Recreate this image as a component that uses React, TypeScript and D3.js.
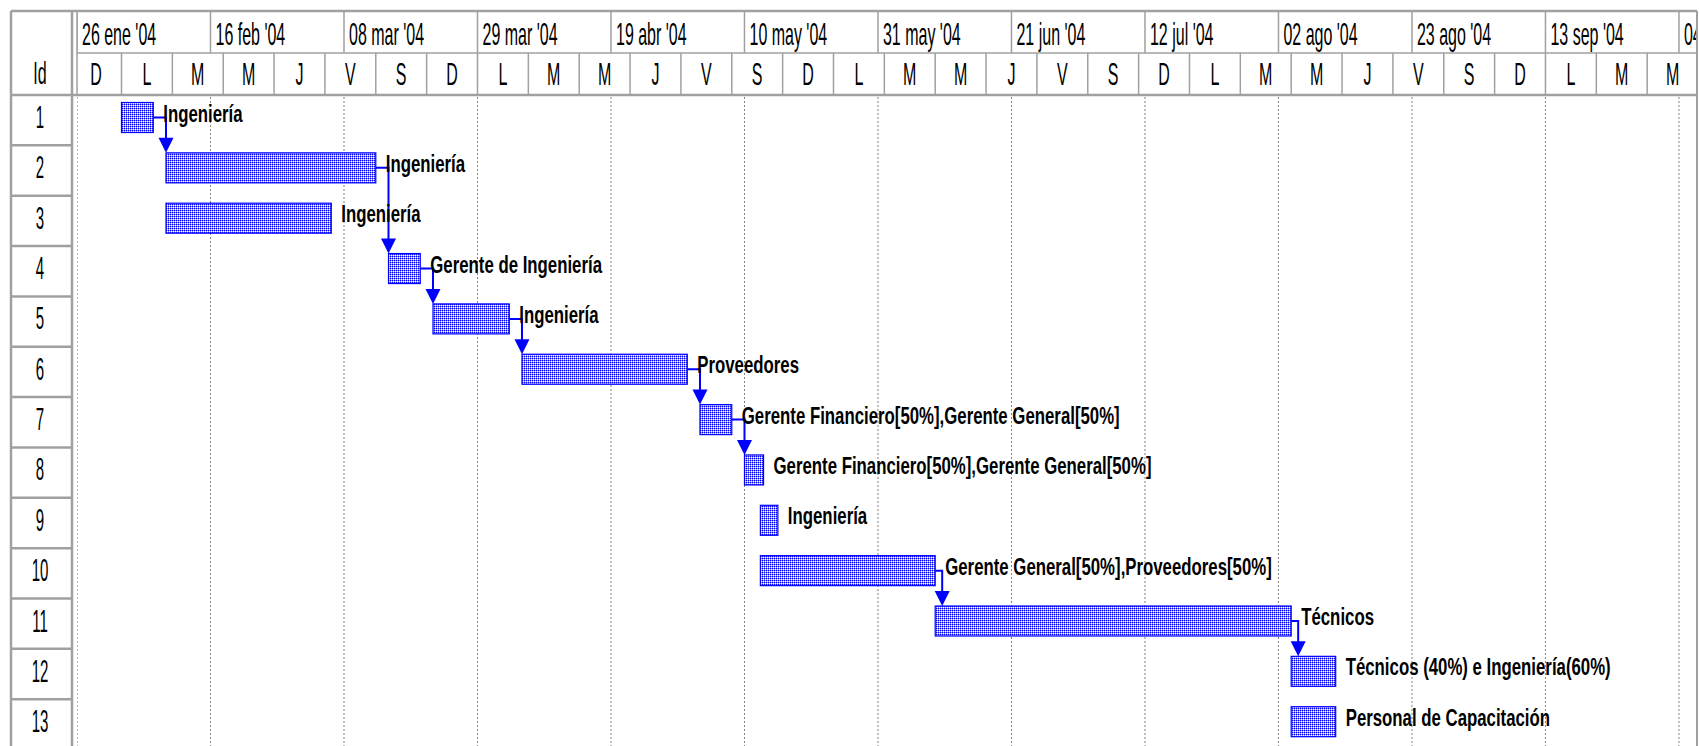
import React from 'react';
import * as d3 from 'd3';

// task table (dates, end = end of last day)
const taskIds = [1, 2, 3, 4, 5, 6, 7, 8, 9, 10, 11, 12, 13];
const taskStarts = [
  '2004-02-02 00:00', '2004-02-09 00:00', '2004-02-09 00:00', '2004-03-15 00:00',
  '2004-03-22 00:00', '2004-04-05 00:00', '2004-05-03 00:00', '2004-05-10 00:00',
  '2004-05-12 12:00', '2004-05-12 12:00', '2004-06-09 00:00', '2004-08-04 00:00',
  '2004-08-04 00:00',
];
const taskEnds = [
  '2004-02-07 00:00', '2004-03-13 00:00', '2004-03-06 00:00', '2004-03-20 00:00',
  '2004-04-03 00:00', '2004-05-01 00:00', '2004-05-08 00:00', '2004-05-13 00:00',
  '2004-05-15 06:00', '2004-06-09 00:00', '2004-08-04 00:00', '2004-08-11 00:00',
  '2004-08-11 00:00',
];
const taskResources = [
  'Ingeniería',
  'Ingeniería',
  'Ingeniería',
  'Gerente de Ingeniería',
  'Ingeniería',
  'Proveedores',
  'Gerente Financiero[50%],Gerente General[50%]',
  'Gerente Financiero[50%],Gerente General[50%]',
  'Ingeniería',
  'Gerente General[50%],Proveedores[50%]',
  'Técnicos',
  'Técnicos (40%) e Ingeniería(60%)',
  'Personal de Capacitación',
];
// predecessor -> successor
const taskLinks = [[1, 2], [2, 4], [4, 5], [5, 6], [6, 7], [7, 8], [10, 11], [11, 12]];

// timescale
const monthAbbr = ['ene', 'feb', 'mar', 'abr', 'may', 'jun', 'jul', 'ago', 'sep', 'oct', 'nov', 'dic'];
const weekdayLetters = ['D', 'L', 'M', 'M', 'J', 'V', 'S'];
const timelineStart = '2004-01-26 00:00';
const timelineEnd = '2004-10-04 00:00';
const majorStepDays = 21;
const minorStart = '2004-01-25 00:00';
const minorStepDays = 8;

const W = 1699;
const H = 746;
const LINE = '#a0a0a0';
const BLUE = '#0000ff';
const FONT = '"Liberation Sans", Arial, sans-serif';

const parse = d3.utcParse('%Y-%m-%d %H:%M');

const App = () => {
  const top = 11;
  const midY = 53;
  const headBottom = 95;
  const rowH = 50.35;
  const idLeft = 11;
  const idRight = 72;
  const chartLeft = 77;
  const chartRight = 1697;

  const x = d3.scaleUtc()
    .domain([parse(timelineStart), parse(timelineEnd)])
    .range([chartLeft, chartLeft + 252 * 6.357]);

  const y = d3.scaleLinear()
    .domain([0, taskIds.length])
    .range([headBottom, headBottom + taskIds.length * rowH]);

  const dayW = x(parse('2004-01-27 00:00')) - x(parse(timelineStart));

  const majorTicks = d3.utcDay.range(parse(timelineStart), parse('2004-10-30 00:00'), majorStepDays);
  const minorTicks = d3.utcDay.range(parse(minorStart), parse('2004-10-30 00:00'), minorStepDays);

  const fmtD = d3.utcFormat('%d');
  const fmtY = d3.utcFormat('%y');
  const majorLabel = (d: Date) => `${fmtD(d)} ${monthAbbr[d.getUTCMonth()]} '${fmtY(d)}`;

  const barOff = 7.5;
  const barH = 30;

  const bars = taskIds.map((id, i) => {
    const x0 = x(parse(taskStarts[i]));
    const x1 = x(parse(taskEnds[i]));
    const y0 = y(i) + barOff;
    return { id, i, x0, x1, y0 };
  });

  const headText = (tx: number, ty: number, s: string, anchor: string, key: string) => (
    <text key={key} transform={`translate(${tx},${ty}) scale(0.5,1)`} textAnchor={anchor}
      fontFamily={FONT} fontSize={32} fill="#000">{s}</text>
  );

  return (
    <svg width={W} height={H} style={{ position: 'absolute', left: 0, top: 0, background: '#fff' }}>
      <defs>
        <pattern id="barFill" width={2} height={2} patternUnits="userSpaceOnUse">
          <rect width={2} height={2} fill={BLUE} />
          <rect x={1} y={0} width={1} height={1} fill="#8c8cff" />
          <rect x={0} y={1} width={1} height={1} fill="#8c8cff" />
          <rect x={1} y={1} width={1} height={1} fill="#ffffff" />
        </pattern>
        <clipPath id="chartClip">
          <rect x={chartLeft} y={0} width={chartRight - chartLeft} height={H} />
        </clipPath>
      </defs>

      {/* timescale header */}
      <g clipPath="url(#chartClip)">
        {majorTicks.map((d, k) => (
          <g key={'mj' + k}>
            <line x1={x(d)} x2={x(d)} y1={top} y2={midY} stroke={LINE} strokeWidth={1.5} />
            {headText(x(d) + 5, 45, majorLabel(d), 'start', 'mjt' + k)}
          </g>
        ))}
        {minorTicks.map((d, k) => (
          <g key={'mn' + k}>
            <line x1={x(d)} x2={x(d)} y1={midY} y2={headBottom} stroke={LINE} strokeWidth={1.5} />
            {headText(x(d) + (minorStepDays * dayW) / 2, 85, weekdayLetters[d.getUTCDay()], 'middle', 'mnt' + k)}
          </g>
        ))}
        {/* gridlines */}
        {majorTicks.map((d, k) => (
          <line key={'gl' + k} x1={x(d)} x2={x(d)} y1={headBottom + 2} y2={H}
            stroke="#808080" strokeWidth={1} strokeDasharray="2,2" />
        ))}
      </g>

      {/* header frame */}
      <line x1={idLeft} x2={chartRight} y1={top} y2={top} stroke={LINE} strokeWidth={2.5} />
      <line x1={chartLeft} x2={chartRight} y1={midY} y2={midY} stroke={LINE} strokeWidth={1.5} />
      <line x1={idLeft} x2={chartRight} y1={headBottom} y2={headBottom} stroke={LINE} strokeWidth={2.5} />
      <line x1={idLeft} x2={idLeft} y1={top} y2={H} stroke={LINE} strokeWidth={2.5} />
      <line x1={idRight} x2={idRight} y1={top} y2={H} stroke={LINE} strokeWidth={2.5} />
      <line x1={chartLeft} x2={chartLeft} y1={top} y2={headBottom} stroke={LINE} strokeWidth={1.5} />
      <line x1={chartRight} x2={chartRight} y1={top} y2={H} stroke={LINE} strokeWidth={2} />

      {/* id column */}
      {headText(40, 84, 'Id', 'middle', 'idh')}
      {taskIds.map((id, i) => (
        <g key={'id' + id}>
          <line x1={idLeft} x2={idRight} y1={y(i + 1)} y2={y(i + 1)} stroke={LINE} strokeWidth={2.5} />
          <text transform={`translate(40,${y(i) + 33}) scale(0.47,1)`} textAnchor="middle"
            fontFamily={FONT} fontSize={32} fill="#000">{id}</text>
        </g>
      ))}

      {/* bars */}
      <g clipPath="url(#chartClip)">
        {bars.map(b => (
          <rect key={'b' + b.id} x={b.x0} y={b.y0} width={b.x1 - b.x0} height={barH}
            fill="url(#barFill)" stroke={BLUE} strokeWidth={1.2} />
        ))}

        {/* links */}
        {taskLinks.map(([p, s]) => {
          const pb = bars[p - 1];
          const sb = bars[s - 1];
          const py = pb.y0 + barH / 2;
          const ax = Math.max(sb.x0, pb.x1 + 7);
          const tip = sb.y0;
          return (
            <g key={'l' + p + '-' + s}>
              <path d={`M${pb.x1},${py}H${ax}V${tip - 13}`} fill="none" stroke={BLUE} strokeWidth={2} />
              <path d={`M${ax - 7.5},${tip - 15}L${ax + 7.5},${tip - 15}L${ax},${tip}Z`} fill={BLUE} />
            </g>
          );
        })}

        {/* resource labels */}
        {bars.map(b => (
          <text key={'t' + b.id} transform={`translate(${b.x1 + 10},${b.y0 + barH / 2 + 4}) scale(0.7,1)`}
            fontFamily={FONT} fontWeight="bold" fontSize={24} fill="#000">{taskResources[b.i]}</text>
        ))}
      </g>
    </svg>
  );
};

export default App;
